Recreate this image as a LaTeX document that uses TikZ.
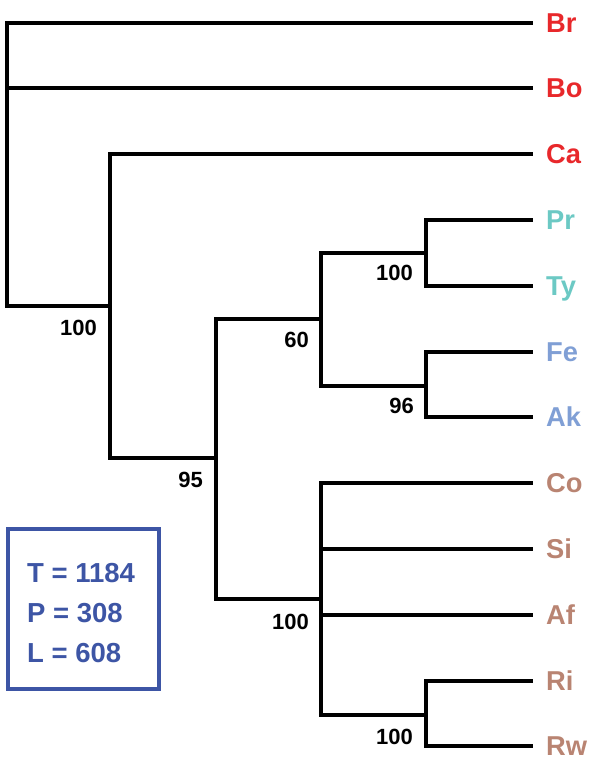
\documentclass[tikz,border=0pt]{standalone}
\usepackage{fontspec}
\setmainfont{Liberation Sans}
\definecolor{cred}{HTML}{E8282B}
\definecolor{cteal}{HTML}{6CC9C4}
\definecolor{cblue}{HTML}{809FD5}
\definecolor{cbrown}{HTML}{B98472}
\definecolor{cbox}{HTML}{3D55A5}
\begin{document}
\begin{tikzpicture}[x=1pt,y=-1pt,
  br/.style={line width=4.5pt, line cap=rect, line join=miter},
  tipline/.style={br, shorten >=15.3pt},
  leaf/.style={anchor=west, inner sep=0pt, font=\fontsize{27.3}{27.3}\selectfont\bfseries, text height=19.6pt, text depth=0pt},
  supp/.style={anchor=east, inner sep=0pt, font=\fontsize{22}{22}\selectfont\bfseries, text height=15.8pt, text depth=0pt}]
\useasboundingbox (0,0) rectangle (593,760);
% leaves
\node[leaf,text=cred] (Br) at (546,23) {Br};
\node[leaf,text=cred] (Bo) at (546,88) {Bo};
\node[leaf,text=cred] (Ca) at (546,154) {Ca};
\node[leaf,text=cteal] (Pr) at (546,220) {Pr};
\node[leaf,text=cteal] (Ty) at (546,286) {Ty};
\node[leaf,text=cblue] (Fe) at (546,352) {Fe};
\node[leaf,text=cblue] (Ak) at (546,417) {Ak};
\node[leaf,text=cbrown] (Co) at (546,483) {Co};
\node[leaf,text=cbrown] (Si) at (546,549) {Si};
\node[leaf,text=cbrown] (Af) at (546,615) {Af};
\node[leaf,text=cbrown] (Ri) at (546,681) {Ri};
\node[leaf,text=cbrown] (Rw) at (546,746) {Rw};
% internal nodes
\coordinate (n1) at (7,306);
\coordinate (n2) at (110,306);
\coordinate (n3) at (216,458);
\coordinate (n4) at (321,319);
\coordinate (n5) at (321,599);
\coordinate (n6) at (426,253);
\coordinate (n7) at (426,386);
\coordinate (n8) at (426,715);
% branches
\draw[tipline] (n1) |- (Br);
\draw[tipline] (n1) |- (Bo);
\draw[br] (n1) |- (n2);
\draw[tipline] (n2) |- (Ca);
\draw[br] (n2) |- (n3);
\draw[br] (n3) |- (n4);
\draw[br] (n3) |- (n5);
\draw[br] (n4) |- (n6);
\draw[br] (n4) |- (n7);
\draw[tipline] (n6) |- (Pr);
\draw[tipline] (n6) |- (Ty);
\draw[tipline] (n7) |- (Fe);
\draw[tipline] (n7) |- (Ak);
\draw[tipline] (n5) |- (Co);
\draw[tipline] (n5) |- (Si);
\draw[tipline] (n5) |- (Af);
\draw[br] (n5) |- (n8);
\draw[tipline] (n8) |- (Ri);
\draw[tipline] (n8) |- (Rw);
% support values
\node[supp] (s1) at (97,328) {100};
\node[supp] (s2) at (203,480) {95};
\node[supp] (s3) at (309,622) {100};
\node[supp] (s4) at (309,340) {60};
\node[supp] (s5) at (413,273) {100};
\node[supp] (s6) at (414,406) {96};
\node[supp] (s7) at (413,737) {100};
% stats box
\node[draw=cbox, line width=4pt, minimum width=151pt, minimum height=160pt, inner sep=0pt] (box) at (83.5,609) {};
\node[anchor=north west, inner sep=0pt, align=left, text=cbox, font=\fontsize{27.5}{40}\selectfont\bfseries] (stats) at (27,563.5) {T = 1184\\P = 308\\L = 608};
\end{tikzpicture}
\end{document}
